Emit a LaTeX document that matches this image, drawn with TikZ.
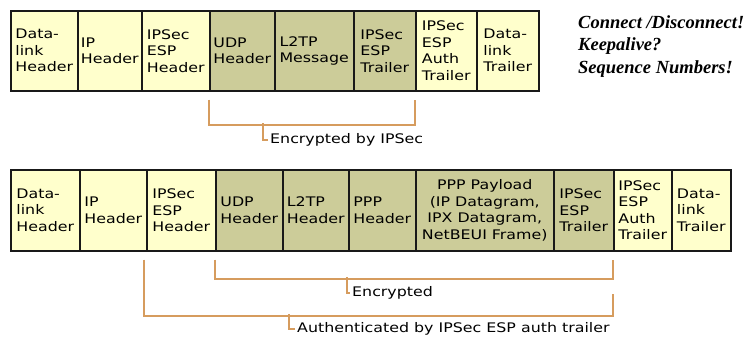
\documentclass[tikz,border=0pt]{standalone}
\usepackage{fontspec}
\usetikzlibrary{calc}
\newfontfamily\fieldfam[FakeStretch=1.2]{DejaVu Sans}
\newfontfamily\notefam{Liberation Serif}
\definecolor{plainfill}{HTML}{FFFFCC}
\definecolor{cipherfill}{HTML}{CCCC99}
\definecolor{bracketc}{HTML}{D69C5E}
\begin{document}
\begin{tikzpicture}[x=1pt,y=-1pt,
  field/.style={draw=black!90, line width=1.5pt, inner sep=0pt, anchor=north west,
    align=left, font=\fieldfam\fontsize{13.2}{16.5}\selectfont},
  toprow/.style={field, minimum height=80pt},
  botrow/.style={field, minimum height=81pt},
  plain/.style={fill=plainfill},
  cipher/.style={fill=cipherfill},
  bracket/.style={draw=bracketc, line width=2pt},
  bracketlabel/.style={anchor=west, inner xsep=2pt, inner ysep=0pt,
    font=\fieldfam\fontsize{13.2}{16.5}\selectfont},
  note/.style={anchor=base west, inner sep=0pt,
    font=\notefam\bfseries\itshape\fontsize{18.5}{22.5}\selectfont}]
\useasboundingbox (0,0) rectangle (747,340);

% L2TP/IPSec packet, short form
\node[toprow, plain,  minimum width=67pt] (t1) at (10,10)  {Data-\\link\\Header};
\node[toprow, plain,  minimum width=64pt] (t2) at (77,10)  {IP\\Header};
\node[toprow, plain,  minimum width=68pt] (t3) at (141,10) {IPSec\\ESP\\Header};
\node[toprow, cipher, minimum width=65pt] (t4) at (209,10) {UDP\\Header};
\node[toprow, cipher, minimum width=79pt] (t5) at (274,10) {L2TP\\Message};
\node[toprow, cipher, minimum width=62pt] (t6) at (353,10) {IPSec\\ESP\\Trailer};
\node[toprow, plain,  minimum width=61pt] (t7) at (415,10) {IPSec\\ESP\\Auth\\Trailer};
\node[toprow, plain,  minimum width=62pt] (t8) at (476,10) {Data-\\link\\Trailer};

% encrypted span of the short form
\draw[bracket] ($(t4.south west)+(0,8)$) -- ++(0,25) -| ($(t7.south west)+(0,8)$);
\node[bracketlabel] (enc1) at (268,140) {Encrypted by IPSec};
\coordinate (k1) at (263,123);
\draw[bracket] (k1) |- (enc1.west);

% remarks
\node[note] (n1) at (578,28)   {Connect /Disconnect!};
\node[note] (n2) at (578,50.5) {Keepalive?};
\node[note] (n3) at (578,73)   {Sequence Numbers!};

% L2TP/IPSec packet, full form
\node[botrow, plain,  minimum width=69pt]  (b1)  at (10,169)  {Data-\\link\\Header};
\node[botrow, plain,  minimum width=67pt]  (b2)  at (79,169)  {IP\\Header};
\node[botrow, plain,  minimum width=69pt]  (b3)  at (146,169) {IPSec\\ESP\\Header};
\node[botrow, cipher, minimum width=67pt]  (b4)  at (215,169) {UDP\\Header};
\node[botrow, cipher, minimum width=66pt]  (b5)  at (282,169) {L2TP\\Header};
\node[botrow, cipher, minimum width=67pt]  (b6)  at (348,169) {PPP\\Header};
\node[botrow, cipher, minimum width=138pt, align=center] (b7) at (415,169)
  {PPP Payload\\(IP Datagram,\\IPX Datagram,\\NetBEUI Frame)};
\node[botrow, cipher, minimum width=60pt]  (b8)  at (553,169) {IPSec\\ESP\\Trailer};
\node[botrow, plain,  minimum width=58pt]  (b9)  at (613,169) {IPSec\\ESP\\Auth\\Trailer};
\node[botrow, plain,  minimum width=59pt]  (b10) at (671,169) {Data-\\link\\Trailer};

% encrypted span of the full form
\draw[bracket] ($(b4.south west)+(0,8)$) -- ++(0,19) -| ($(b9.south west)+(0,8)$);
\node[bracketlabel] (enc2) at (350,293) {Encrypted};
\coordinate (k2) at (347,277);
\draw[bracket] (k2) |- (enc2.west);

% authenticated span of the full form
\draw[bracket] ($(b3.south west)+(-2,8)$) -- ++(0,56) -| ($(b9.south west)+(0,42)$);
\node[bracketlabel] (auth) at (295,329) {Authenticated by IPSec ESP auth trailer};
\coordinate (k3) at (289,314);
\draw[bracket] (k3) |- (auth.west);
\end{tikzpicture}
\end{document}
